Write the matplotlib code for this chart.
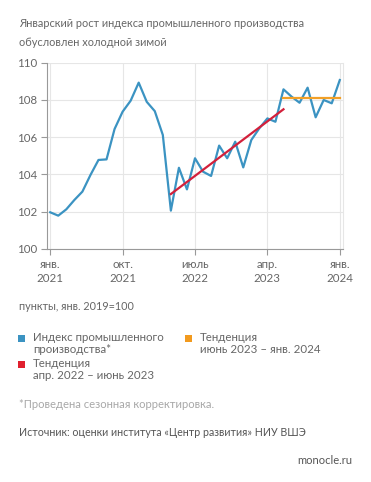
import matplotlib
matplotlib.use("Agg")
import matplotlib.pyplot as plt
from matplotlib.patches import Rectangle

plt.rcParams['font.family'] = ['Lato', 'DejaVu Sans']

# monthly index, Jan 2021 .. Jan 2024 (Jan 2019 = 100, seasonally adjusted)
index_values = [101.97, 101.79, 102.13, 102.63, 103.08, 103.97, 104.78, 104.81,
                106.44, 107.37, 107.96, 108.93, 107.90, 107.40, 106.12, 102.06,
                104.36, 103.20, 104.87, 104.15, 103.92, 105.55, 104.87, 105.76,
                104.38, 105.85, 106.48, 107.01, 106.83, 108.57, 108.18, 107.85,
                108.66, 107.07, 108.00, 107.82, 109.07]
months = list(range(len(index_values)))

# trend lines: (start month, end month), (start value, end value)
trend1_x = [15, 29]
trend1_y = [102.95, 107.50]
trend2_x = [29, 36]
trend2_y = [108.12, 108.12]

tick_pos = [0, 9, 18, 27, 36]
tick_labels = ["янв.\n2021", "окт.\n2021", "июль\n2022", "апр.\n2023", "янв.\n2024"]
y_ticks = [100, 102, 104, 106, 108, 110]

blue = "#3b93c2"
red = "#d3203b"
orange = "#f2a027"
grid_c = "#e6e6e6"
text_c = "#666666"

W, H = 371, 482
fig = plt.figure(figsize=(W / 100, H / 100), dpi=100)
ax = fig.add_axes([47 / W, 1 - 249 / H, (343 - 47) / W, (249 - 62.7) / H])

ax.plot(months, index_values, color=blue, lw=1.6, zorder=3)
ax.plot(trend1_x, trend1_y, color=red, lw=1.6, zorder=4)
ax.plot(trend2_x, trend2_y, color=orange, lw=1.6, zorder=4)

ax.set_xlim(-0.4, 36.4)
ax.set_ylim(100, 110)
ax.set_yticks(y_ticks)
ax.set_xticks(tick_pos)
ax.set_xticklabels(tick_labels, linespacing=1.35)
ax.tick_params(axis='both', length=4, width=0.8, color="#999999", labelsize=8.3,
               labelcolor=text_c, pad=3)

ax.grid(True, color=grid_c, lw=0.8)
ax.set_axisbelow(True)
ax.spines['top'].set_visible(False)
ax.spines['right'].set_color(grid_c)
ax.spines['left'].set_color("#999999")
ax.spines['bottom'].set_color("#999999")

# title
fig.text(19 / W, 1 - 23.5 / H, "Январский рост индекса промышленного производства",
         fontsize=7.9, color=text_c, va='center', ha='left')
fig.text(19 / W, 1 - 42.5 / H, "обусловлен холодной зимой",
         fontsize=7.9, color=text_c, va='center', ha='left')

fig.text(19 / W, 1 - 306 / H, "пункты, янв. 2019=100", fontsize=7.8, color=text_c, va='center')

# legend
def legend_item(x, y, color, text):
    fig.add_artist(Rectangle((x / W, 1 - (y + 3.5) / H), 7 / W, 7 / H,
                             transform=fig.transFigure, color=color, lw=0))
    fig.text((x + 15) / W, 1 - (y - 6) / H, text, fontsize=8.3, color=text_c,
             va='top', ha='left', linespacing=1.15)

legend_item(18, 338, blue, "Индекс промышленного\nпроизводства*")
legend_item(18, 364, "#e0202e", "Тенденция\nапр. 2022 – июнь 2023")
legend_item(185, 338, "#f29a1e", "Тенденция\nиюнь 2023 – янв. 2024")

fig.text(19 / W, 1 - 405 / H, "*Проведена сезонная корректировка.", fontsize=8.1,
         color="#a8a8a8", va='center')
fig.text(19 / W, 1 - 433 / H, "Источник: оценки института «Центр развития» НИУ ВШЭ",
         fontsize=7.7, color="#555555", va='center')
fig.text(352 / W, 1 - 460 / H, "monocle.ru", fontsize=8.0, color="#555555",
         va='center', ha='right')

fig.savefig("out.png", dpi=100, facecolor="white")
